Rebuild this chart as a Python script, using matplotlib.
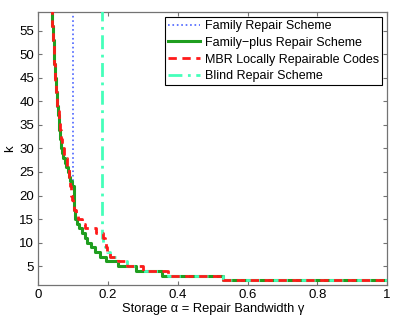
import matplotlib
matplotlib.use("Agg")
import matplotlib.pyplot as plt
import numpy as np

plt.rcParams["font.family"] = ["Liberation Sans", "DejaVu Sans"]

# k values (ascending) and storage alpha at which each k is first reached
K_GREEN = list(range(2, 61))
A_GREEN = [0.530, 0.356, 0.281, 0.229, 0.195, 0.176, 0.162, 0.150, 0.141, 0.133,
           0.126, 0.118, 0.112, 0.106, 0.104, 0.103, 0.102, 0.102, 0.101, 0.101,
           0.097, 0.092, 0.088, 0.084, 0.080, 0.076, 0.072, 0.069, 0.066, 0.064,
           0.062, 0.061, 0.060, 0.059, 0.058, 0.057, 0.056, 0.055, 0.054, 0.053,
           0.052, 0.051, 0.050, 0.049, 0.048, 0.047, 0.046, 0.046, 0.045, 0.044,
           0.044, 0.043, 0.042, 0.041, 0.040, 0.040, 0.039, 0.038, 0.037]

K_RED = list(range(2, 61))
A_RED = [0.530, 0.371, 0.300, 0.253, 0.229, 0.205, 0.198, 0.193, 0.190, 0.186,
         0.165, 0.133, 0.124, 0.113, 0.107, 0.103, 0.100, 0.097, 0.095, 0.093,
         0.092, 0.092, 0.087, 0.087, 0.081, 0.081, 0.075, 0.075, 0.069, 0.069,
         0.064, 0.064, 0.061, 0.061, 0.058, 0.058, 0.055, 0.055, 0.053, 0.053,
         0.051, 0.051, 0.049, 0.049, 0.047, 0.047, 0.045, 0.045, 0.044, 0.044,
         0.042, 0.042, 0.041, 0.041, 0.039, 0.039, 0.038, 0.038, 0.036]

K_BLIND = [2, 3, 4, 5, 6, 7, 8, 9, 10, 11, 60]
A_BLIND = [0.530, 0.371, 0.300, 0.253, 0.229, 0.205, 0.197, 0.190, 0.185, 0.182, 0.182]

# family repair: vertical at alpha = 0.1 above k = 22, otherwise like family-plus
K_FAMILY = list(range(2, 22)) + [22, 60]
A_FAMILY = A_GREEN[:20] + [0.100, 0.100]

LABELS = ["Family Repair Scheme", "Family\u2212plus Repair Scheme",
          "MBR Locally Repairable Codes", "Blind Repair Scheme"]


def stairs(ks, alphas):
    # sort by alpha ascending (k descending) and extend to alpha = 1
    order = np.argsort(-np.array(ks), kind="stable")
    x = list(np.array(alphas)[order]) + [1.0]
    y = list(np.array(ks)[order]) + [ks[0]]
    return x, y


fig = plt.figure(figsize=(3.95, 3.22), dpi=100)
ax = fig.add_axes([0.097, 0.115, 0.883, 0.848])

x, y = stairs(K_FAMILY, A_FAMILY)
ax.step(x, y, where="post", color="#4a63ff", linestyle=":", linewidth=1.2,
        label=LABELS[0], zorder=1)
x, y = stairs(K_GREEN, A_GREEN)
ax.step(x, y, where="post", color="#1f9e1f", linestyle="-", linewidth=2.2,
        label=LABELS[1], zorder=2)
x, y = stairs(K_RED, A_RED)
ax.step(x, y, where="post", color="#ff1a1a", linestyle=(0, (3, 2)), linewidth=2.0,
        label=LABELS[2], zorder=4)
x, y = stairs(K_BLIND, A_BLIND)
ax.step(x, y, where="post", color="#45ffba", linestyle=(0, (5, 2, 1, 2)), linewidth=2.0,
        label=LABELS[3], zorder=3)

ax.set_xlim(0, 1)
ax.set_ylim(1, 59)
ax.set_xticks([0, 0.2, 0.4, 0.6, 0.8, 1.0])
ax.set_xticklabels(["0", "0.2", "0.4", "0.6", "0.8", "1"])
ax.set_yticks(range(5, 60, 5))
ax.tick_params(direction="in", top=True, right=True, labelsize=9.5, length=3,
               color="0.45", pad=3)
for s in ax.spines.values():
    s.set_color("0.45")
    s.set_linewidth(0.9)

ax.set_xlabel("Storage \u03b1 = Repair Bandwidth \u03b3", fontsize=9.3, labelpad=1)
ax.set_ylabel("k", fontsize=9.5, labelpad=2)

leg = ax.legend(loc="upper right", fontsize=9, frameon=True, fancybox=False,
                edgecolor="black", framealpha=1, borderaxespad=0.4,
                handlelength=2.6, labelspacing=0.38, borderpad=0.25,
                handletextpad=0.35)
leg.get_frame().set_linewidth(0.8)

fig.savefig("out.png", dpi=100)
